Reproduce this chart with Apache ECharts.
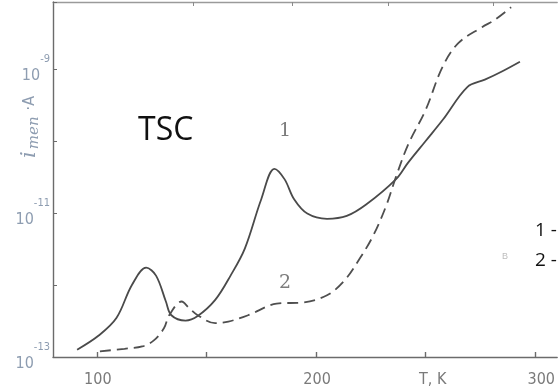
<!DOCTYPE html>
<html>
<head>
<meta charset="utf-8">
<script src="https://cdn.jsdelivr.net/npm/echarts@6/dist/echarts.min.js"></script>
<style>
  html, body { margin: 0; padding: 0; background: #ffffff; }
  #chart { width: 558px; height: 392px; }
</style>
</head>
<body>
<div id="chart"></div>
<script>
// Thermally stimulated current, curves 1 and 2 (temperature in K, current in A)
const temps1 = [91, 101, 109, 116, 122.5, 127, 131.5, 134, 140.5, 146, 154, 161, 167.5, 175, 181, 185.6, 190, 196, 205, 214, 223, 236.5, 242, 250, 258, 269, 277, 285, 293];
const current1 = [1.26e-13, 2.0e-13, 3.5e-13, 1.0e-12, 1.74e-12, 1.35e-12, 5.9e-13, 3.8e-13, 3.2e-13, 3.7e-13, 6.2e-13, 1.35e-12, 3.2e-12, 1.55e-11, 4.1e-11, 2.95e-11, 1.55e-11, 9.8e-12, 8.3e-12, 9.1e-12, 1.32e-11, 2.95e-11, 5.0e-11, 1.0e-10, 2.0e-10, 5.6e-10, 7.1e-10, 9.3e-10, 1.26e-9];

const temps2 = [101.4, 112.6, 120.7, 126, 130.6, 133, 138.7, 142, 146, 154, 160, 169, 182, 194.6, 205, 212.6, 220, 226, 232, 236.5, 242, 250, 257.7, 265, 275.7, 281.5, 289];
const current2 = [1.2e-13, 1.3e-13, 1.4e-13, 1.7e-13, 2.5e-13, 3.8e-13, 5.9e-13, 4.8e-13, 3.8e-13, 2.95e-13, 3.1e-13, 3.8e-13, 5.5e-13, 5.75e-13, 7.2e-13, 1.12e-12, 2.35e-12, 4.8e-12, 1.26e-11, 3.2e-11, 8.9e-11, 2.7e-10, 1.07e-9, 2.3e-9, 3.8e-9, 4.8e-9, 7.2e-9];

// Axis ticks and labels
const xTicks = [100, 150, 200, 250, 300];
const xLabelValues = [100, 200, 250, 300];
const xUnitLabel = 'T, K';
const topTicks = [144, 189, 233, 281];
const yLabelExponents = [-13, -11, -9];

const pair = (xs, ys) => xs.map((x, i) => [x, ys[i]]);

const axisGray = '#6b6b6b';
const labelBlue = '#8e9db1';
const narrow = "'Liberation Sans Narrow', 'DejaVu Sans Condensed', sans-serif";

const chart = echarts.init(document.getElementById('chart'), null, { renderer: 'canvas' });

chart.setOption({
  backgroundColor: '#ffffff',
  animation: false,
  grid: { left: 53, right: -6, top: 2, bottom: 35, containLabel: false },
  xAxis: [
    {
      type: 'value',
      min: 80,
      max: 310,
      position: 'bottom',
      axisLine: { show: true, lineStyle: { color: axisGray, width: 1.4 } },
      axisTick: { show: true, inside: true, length: 5, customValues: xTicks, lineStyle: { color: axisGray, width: 1.4 } },
      splitLine: { show: false },
      axisLabel: {
        customValues: xLabelValues,
        margin: 15,
        color: '#7a7a7a',
        fontSize: 16,
        fontFamily: narrow,
        formatter: v => (v === 250 ? '{u|' + xUnitLabel + '}' : v === 300 ? '{e|' + v + '}' : '{n|' + v + '}'),
        rich: {
          n: { fontSize: 16, color: '#7a7a7a', fontFamily: narrow, padding: [0, 0, 0, 2] },
          u: { fontSize: 16, color: '#7a7a7a', fontFamily: narrow, padding: [0, 0, 0, 14] },
          e: { fontSize: 16, color: '#7a7a7a', fontFamily: narrow, padding: [0, 0, 0, 12] }
        }
      }
    },
    {
      type: 'value',
      min: 80,
      max: 310,
      position: 'top',
      axisLine: { show: true, lineStyle: { color: '#9a9a9a', width: 1.4 } },
      axisTick: { show: true, inside: true, length: 4, customValues: topTicks, lineStyle: { color: '#8a8a8a' } },
      axisLabel: { show: false },
      splitLine: { show: false }
    }
  ],
  yAxis: {
    type: 'log',
    logBase: 10,
    min: 1e-13,
    max: 8.5e-9,
    axisLine: { show: true, lineStyle: { color: axisGray, width: 1.4 } },
    axisTick: { show: true, inside: true, length: 4, lineStyle: { color: axisGray } },
    splitLine: { show: false },
    axisLabel: {
      margin: 3,
      color: labelBlue,
      fontFamily: narrow,
      formatter: v => {
        const e = Math.round(Math.log10(v));
        return yLabelExponents.includes(e) ? '{b|10}{s|' + e + '}' : '';
      },
      rich: {
        b: { fontSize: 16, color: labelBlue, fontFamily: narrow, lineHeight: 30, verticalAlign: 'bottom' },
        s: { fontSize: 11, color: labelBlue, fontFamily: narrow, lineHeight: 30, verticalAlign: 'top' }
      }
    }
  },
  series: [
    {
      name: '1',
      type: 'line',
      data: pair(temps1, current1),
      smooth: 0.35,
      showSymbol: false,
      lineStyle: { color: '#4a4a4a', width: 1.8 }
    },
    {
      name: '2',
      type: 'line',
      data: pair(temps2, current2),
      smooth: 0.35,
      showSymbol: false,
      lineStyle: { color: '#4f4f4f', width: 1.8, type: [11, 6] }
    }
  ],
  graphic: [
    {
      type: 'text',
      left: 19, top: 96,
      rotation: Math.PI / 2,
      originX: 0, originY: 0,
      style: {
        text: '{i|i}{s|тeп}{n|·A}',
        rich: {
          i: { fontSize: 21, fontStyle: 'italic', fill: labelBlue, fontFamily: 'DejaVu Serif, serif' },
          s: { fontSize: 15, fontStyle: 'italic', fill: labelBlue, fontFamily: 'DejaVu Serif, serif', padding: [10, 2, 0, 2] },
          n: { fontSize: 16, fill: labelBlue, fontFamily: narrow, padding: [0, 0, 0, 4] }
        }
      }
    },
    {
      type: 'text',
      left: 138, top: 115,
      style: { text: 'TSC', fontSize: 32, fill: '#111111', fontFamily: "'Open Sans', 'Liberation Sans', sans-serif" }
    },
    {
      type: 'text',
      left: 279, top: 122,
      style: { text: '1', fontSize: 19, fill: '#7c7c7c', fontFamily: "'DejaVu Serif', serif" }
    },
    {
      type: 'text',
      left: 279, top: 274,
      style: { text: '2', fontSize: 19, fill: '#7c7c7c', fontFamily: "'DejaVu Serif', serif" }
    },
    {
      type: 'text',
      left: 535, top: 221,
      style: { text: '1 -', fontSize: 19, fill: '#111111', fontFamily: "'Open Sans', 'Liberation Sans', sans-serif" }
    },
    {
      type: 'text',
      left: 535, top: 251,
      style: { text: '2 -', fontSize: 19, fill: '#111111', fontFamily: "'Open Sans', 'Liberation Sans', sans-serif" }
    },
    {
      type: 'text',
      left: 502, top: 252,
      style: { text: 'B', fontSize: 9, fill: '#bdbdbd', fontFamily: 'sans-serif' }
    }
  ]
});
</script>
</body>
</html>
